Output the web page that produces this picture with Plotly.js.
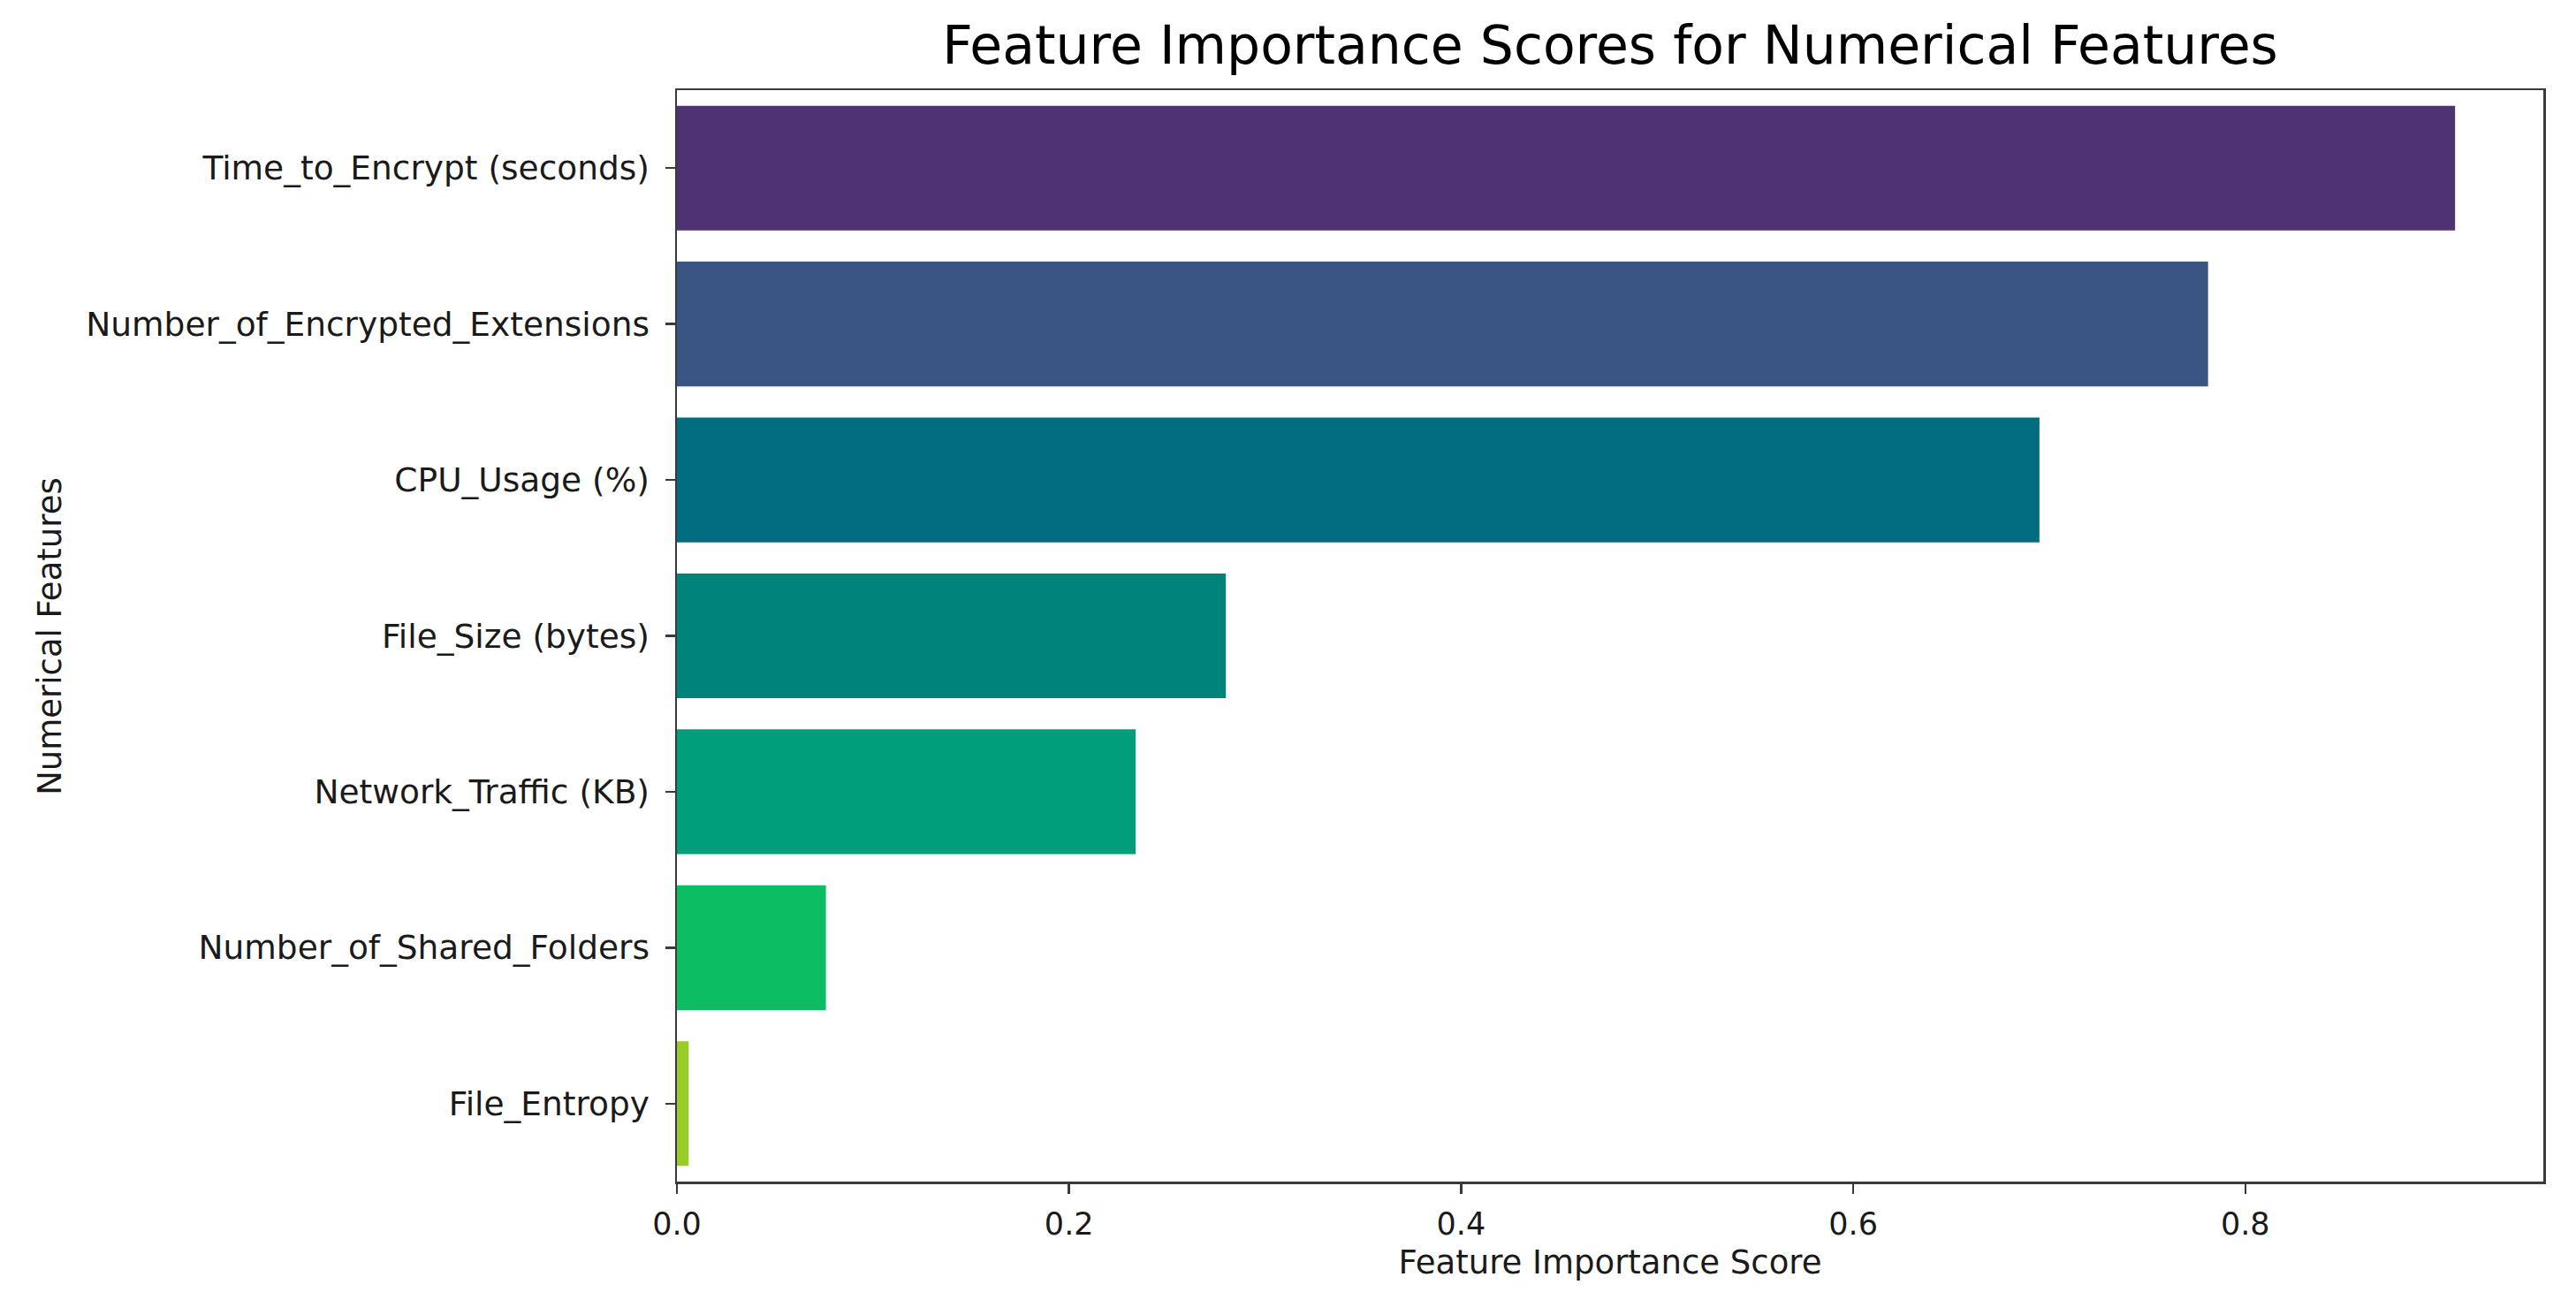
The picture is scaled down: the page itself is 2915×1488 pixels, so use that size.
<!DOCTYPE html>
<html>
<head>
<meta charset="utf-8">
<script src="https://cdn.plot.ly/plotly-3.0.1.min.js"></script>
<style>
	html, body { margin: 0; padding: 0; background: #ffffff; }
	#chart { width: 2915px; height: 1488px; }
</style>
</head>
<body>
<div id="chart"></div>
<script>
	// features, top to bottom as in the picture
	var features = [
		"Time_to_Encrypt (seconds)",
		"Number_of_Encrypted_Extensions",
		"CPU_Usage (%)",
		"File_Size (bytes)",
		"Network_Traffic (KB)",
		"Number_of_Shared_Folders",
		"File_Entropy"
	];
	var scores = [0.907, 0.781, 0.695, 0.280, 0.234, 0.076, 0.006];
	var barColors = ["#4f3271", "#3b5583", "#016b80", "#00837a", "#009e7a", "#0dbd64", "#98cc26"];
	var xTicks = [0, 0.2, 0.4, 0.6, 0.8];
	var xTickText = ["0.0", "0.2", "0.4", "0.6", "0.8"];

	var trace = {
		type: "bar",
		orientation: "h",
		x: scores,
		y: features,
		marker: { color: barColors, line: { width: 0 } },
		hoverinfo: "x+y"
	};

	var axisLine = { color: "#3a3a3a", width: 2.5 };

	var layout = {
		width: 2915,
		height: 1488,
		paper_bgcolor: "#ffffff",
		plot_bgcolor: "#ffffff",
		font: { family: "DejaVu Sans", color: "#1a1a1a", size: 37 },
		margin: { l: 766, r: 37, t: 102, b: 151, pad: 0 },
		bargap: 0.2,
		showlegend: false,
		title: {
			text: "Feature Importance Scores for Numerical Features",
			font: { family: "DejaVu Sans", size: 60, color: "#000000" },
			x: 0.5,
			xref: "paper",
			xanchor: "center",
			y: 1488 - 56,
			yref: "container",
			yanchor: "middle"
		},
		xaxis: {
			range: [0, 0.952],
			tickvals: xTicks,
			ticktext: xTickText,
			ticks: "outside",
			ticklen: 11,
			tickwidth: 2.5,
			tickcolor: axisLine.color,
			showline: true,
			linecolor: axisLine.color,
			linewidth: axisLine.width,
			mirror: true,
			showgrid: false,
			zeroline: false,
			ticklabelstandoff: 4,
			tickfont: { size: 35 },
			title: { text: "Feature Importance Score", font: { size: 37 }, standoff: 12 }
		},
		yaxis: {
			type: "category",
			autorange: "reversed",
			ticks: "outside",
			ticklen: 11,
			tickwidth: 2.5,
			tickcolor: axisLine.color,
			showline: true,
			linecolor: axisLine.color,
			linewidth: axisLine.width,
			mirror: true,
			showgrid: false,
			zeroline: false,
			ticklabelstandoff: 10,
			tickfont: { size: 37.5 }
		},
		// y axis title as a rotated annotation so it sits where the reference has it
		annotations: [{
			text: "Numerical Features",
			xref: "paper",
			yref: "paper",
			x: -0.336,
			y: 0.5,
			xanchor: "center",
			yanchor: "middle",
			textangle: -90,
			showarrow: false,
			font: { size: 37, color: "#1a1a1a" }
		}]
	};

	var config = { displayModeBar: false, staticPlot: true };

	Plotly.newPlot("chart", [trace], layout, config);
</script>
</body>
</html>
